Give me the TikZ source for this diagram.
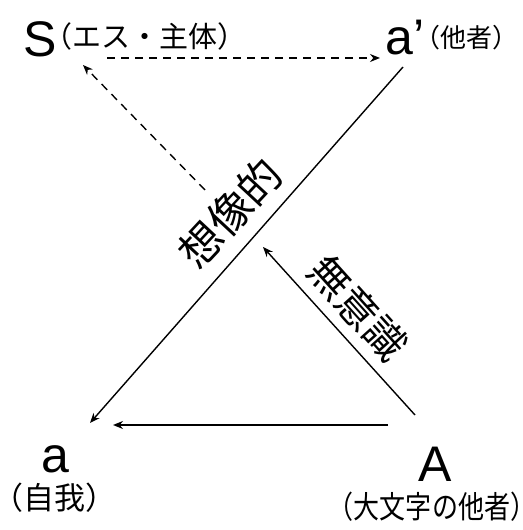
\documentclass[tikz,border=0pt]{standalone}
\usepackage{fontspec}
\setmainfont{Liberation Sans}
\newfontfamily\jpfont{Noto Sans CJK JP}
\usetikzlibrary{arrows.meta}

\begin{document}
\begin{tikzpicture}[x=1pt, y=1pt,
    letter/.style={inner sep=0pt, font=\fontsize{50}{50}\selectfont},
    jlabel/.style={inner sep=0pt, font=\jpfont\fontsize{29}{29}\selectfont},
    bigjp/.style={inner sep=0pt, font=\jpfont\fontsize{43}{43}\selectfont},
    arrow/.style={-{Stealth[length=10pt, width=8pt]}, line width=1.4pt},
    dasharrow/.style={arrow, dash pattern=on 8pt off 6pt}]
\useasboundingbox (0,0) rectangle (522,530);

% the four places of the schema
\node[letter, anchor=base] (S)  at (40,473)  {S};
\node[jlabel] (Slab) at (145,494) {（エス・主体）};
\node[letter, anchor=base] (ap) at (405,475) {a’};
\node[jlabel, font=\jpfont\fontsize{26}{26}\selectfont] (aplab) at (466,492) {（他者）};
\node[letter, anchor=base] (a)  at (55,57)   {a};
\node[jlabel, font=\jpfont\fontsize{31}{31}\selectfont] (alab) at (55,32) {（自我）};
\node[jlabel, font=\jpfont\fontsize{31}{31}\selectfont, xscale=0.84] (Alab) at (432,23) {（大文字の他者）};
\node[letter, anchor=base] (A)  at (435,48)  {A};

% axis labels
\node[bigjp, rotate=47]  (imag)  at (230,317) {想像的};
\node[bigjp, rotate=-48, font=\jpfont\fontsize{41}{41}\selectfont] (uncon) at (358,222) {無意識};

% connector ends
\coordinate (S-out)  at (107,472);
\coordinate (ap-in)  at (380,472);
\coordinate (S-in)   at (83,465);
\coordinate (mid-up) at (205,340);
\coordinate (ap-out) at (403,463);
\coordinate (a-in)   at (90,107);
\coordinate (A-out)  at (388,105);
\coordinate (a-in2)  at (113,105);
\coordinate (A-up)   at (415,115);
\coordinate (mid-in) at (263,283);

\draw[dasharrow] (S-out) -- (ap-in);
\draw[dasharrow] (mid-up) -- (S-in);
\draw[arrow] (ap-out) -- (a-in);
\draw[arrow] (A-out) -- (a-in2);
\draw[arrow] (A-up) -- (mid-in);
\end{tikzpicture}
\end{document}
